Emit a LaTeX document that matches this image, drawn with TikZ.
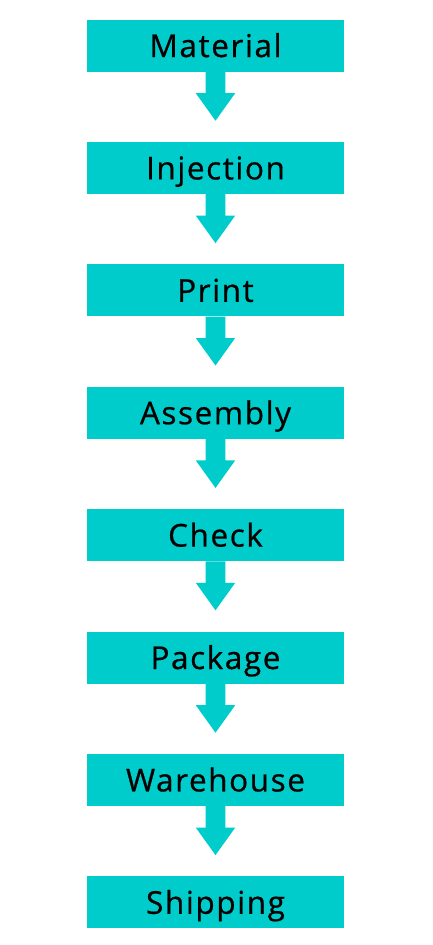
\documentclass[tikz,border=0pt]{standalone}
\usepackage{fontspec}
\setmainfont[LetterSpace=5,FakeBold=0.6]{Open Sans}
\usetikzlibrary{calc}
\definecolor{teal1}{RGB}{0,204,204}
\begin{document}
\begin{tikzpicture}[x=1pt,y=-1pt,
  stepbox/.style={fill=teal1,draw=none,minimum width=257pt,minimum height=52pt,inner sep=0pt},
  label/.style={font=\fontsize{31.5}{31.5}\selectfont,text=black,anchor=base,inner sep=0pt},
  flow/.style={fill=teal1,draw=none}]
\useasboundingbox (0,0) rectangle (433,945);
\foreach \t [count=\i from 0] in {Material,Injection,Print,Assembly,Check,Package,Warehouse,Shipping}{
  \pgfmathsetmacro{\cy}{45.5+\i*122.4}
  \node[stepbox] (b\i) at (215.5,\cy) {};
  \node[label] (t\i) at (215.5,\cy+11.5) {\t};
}
\foreach \i in {0,...,6}{
  \fill[flow] ($(b\i.south)+(-9.8,0)$) -- ($(b\i.south)+(9.8,0)$) -- ($(b\i.south)+(9.8,21.5)$)
    -- ($(b\i.south)+(19.7,21.5)$) -- ($(b\i.south)+(0,49)$) -- ($(b\i.south)+(-19.7,21.5)$)
    -- ($(b\i.south)+(-9.8,21.5)$) -- cycle;
}
\end{tikzpicture}
\end{document}
